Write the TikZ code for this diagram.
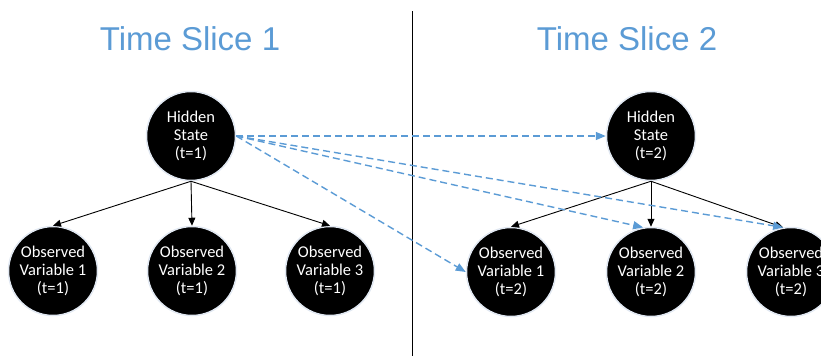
\documentclass[tikz,border=0pt]{standalone}
\usepackage{fontspec}
\setmainfont{Carlito}
\newfontfamily\titlefont{Liberation Sans}
\usetikzlibrary{arrows.meta}
\definecolor{sliceblue}{HTML}{5B9BD5}
\begin{document}
\begin{tikzpicture}[x=1bp,y=-1bp,
  varnode/.style={circle,fill=black,draw={rgb,255:red,225;green,232;blue,242},line width=1.5bp,
    minimum size=89bp,inner sep=0pt,text=white,align=center,
    font=\fontsize{16.5bp}{18bp}\selectfont},
  titletext/.style={text=sliceblue,font=\titlefont\fontsize{33bp}{39bp}\selectfont,anchor=base},
  causal/.style={draw=black,line width=0.9bp,-{Triangle[length=8bp,width=7bp]}},
  temporal/.style={draw=sliceblue,line width=1.4bp,dash pattern=on 7bp off 4bp,
    -{Triangle[length=10bp,width=8bp]}}
]
\useasboundingbox (0,0) rectangle (821,356);
\clip (0,0) rectangle (821,356);

\node[titletext] (t1) at (190,50) {Time Slice 1};
\node[titletext] (t2) at (627,50) {Time Slice 2};

\coordinate (divtop) at (412.5,11);
\coordinate (divbot) at (412.5,356);
\draw[line width=1bp] (divtop) -- (divbot);

\node[varnode] (h1) at (191,136) {Hidden\\State\\(t=1)};
\node[varnode] (h2) at (651,136) {Hidden\\State\\(t=2)};

\node[varnode] (o11) at (53,271) {Observed\\Variable 1\\(t=1)};
\node[varnode] (o21) at (192,271) {Observed\\Variable 2\\(t=1)};
\node[varnode] (o31) at (330,271) {Observed\\Variable 3\\(t=1)};
\node[varnode] (o12) at (511,272) {Observed\\Variable 1\\(t=2)};
\node[varnode] (o22) at (651,272) {Observed\\Variable 2\\(t=2)};
\node[varnode] (o32) at (791,272) {Observed\\Variable 3\\(t=2)};

\draw[causal] (h1.south) -- (o11.north);
\draw[causal] (h1.south) -- (o21.north);
\draw[causal] (h1.south) -- (o31.north);
\draw[causal] (h2.south) -- (o12.north);
\draw[causal] (h2.south) -- (o22.north);
\draw[causal] (h2.south) -- (o32.100);

\draw[temporal] (h1.east) -- (h2.west);
\draw[temporal] (h1.east) -- (o12.west);
\draw[temporal] (h1.east) -- (o22.100);
\draw[temporal] (h1.east) -- (o32.100);
\end{tikzpicture}
\end{document}
